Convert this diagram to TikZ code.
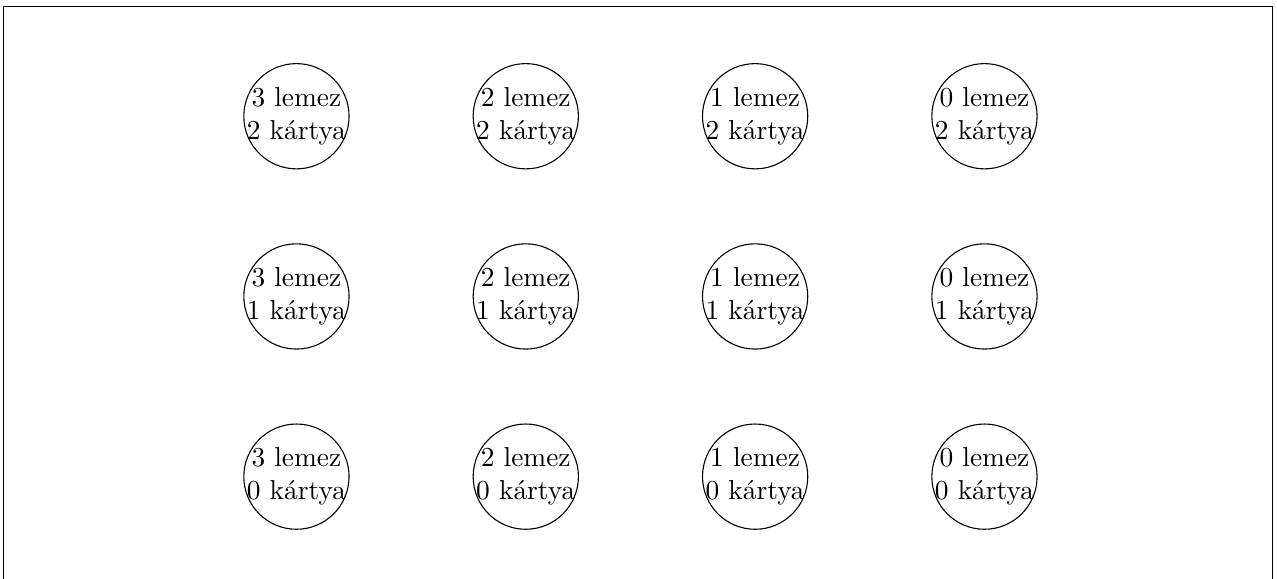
\documentclass[tikz,border=0pt]{standalone}
\usepackage[utf8]{inputenc}
\usepackage{tikz}
\usetikzlibrary{positioning}

\begin{document}
\begin{tikzpicture}[on grid, state/.style={draw, circle, align=center, inner sep=-1.2pt}]
    \useasboundingbox (0,0) rectangle (16.37,-7.41);
    \draw (0.05,-7.6) -- (0.05,-0.085) -- (16.31,-0.085) -- (16.31,-7.6);

    \node [state] (s32) at (3.8,-1.49) {3 lemez\\2 kártya};
    \node [state, right=2.94cm of s32] (s22) {2 lemez\\2 kártya};
    \node [state, right=2.94cm of s22] (s12) {1 lemez\\2 kártya};
    \node [state, right=2.94cm of s12] (s02) {0 lemez\\2 kártya};

    \node [state, below=2.31cm of s32] (s31) {3 lemez\\1 kártya};
    \node [state, right=2.94cm of s31] (s21) {2 lemez\\1 kártya};
    \node [state, right=2.94cm of s21] (s11) {1 lemez\\1 kártya};
    \node [state, right=2.94cm of s11] (s01) {0 lemez\\1 kártya};

    \node [state, below=2.31cm of s31] (s30) {3 lemez\\0 kártya};
    \node [state, right=2.94cm of s30] (s20) {2 lemez\\0 kártya};
    \node [state, right=2.94cm of s20] (s10) {1 lemez\\0 kártya};
    \node [state, right=2.94cm of s10] (s00) {0 lemez\\0 kártya};
\end{tikzpicture}
\end{document}
